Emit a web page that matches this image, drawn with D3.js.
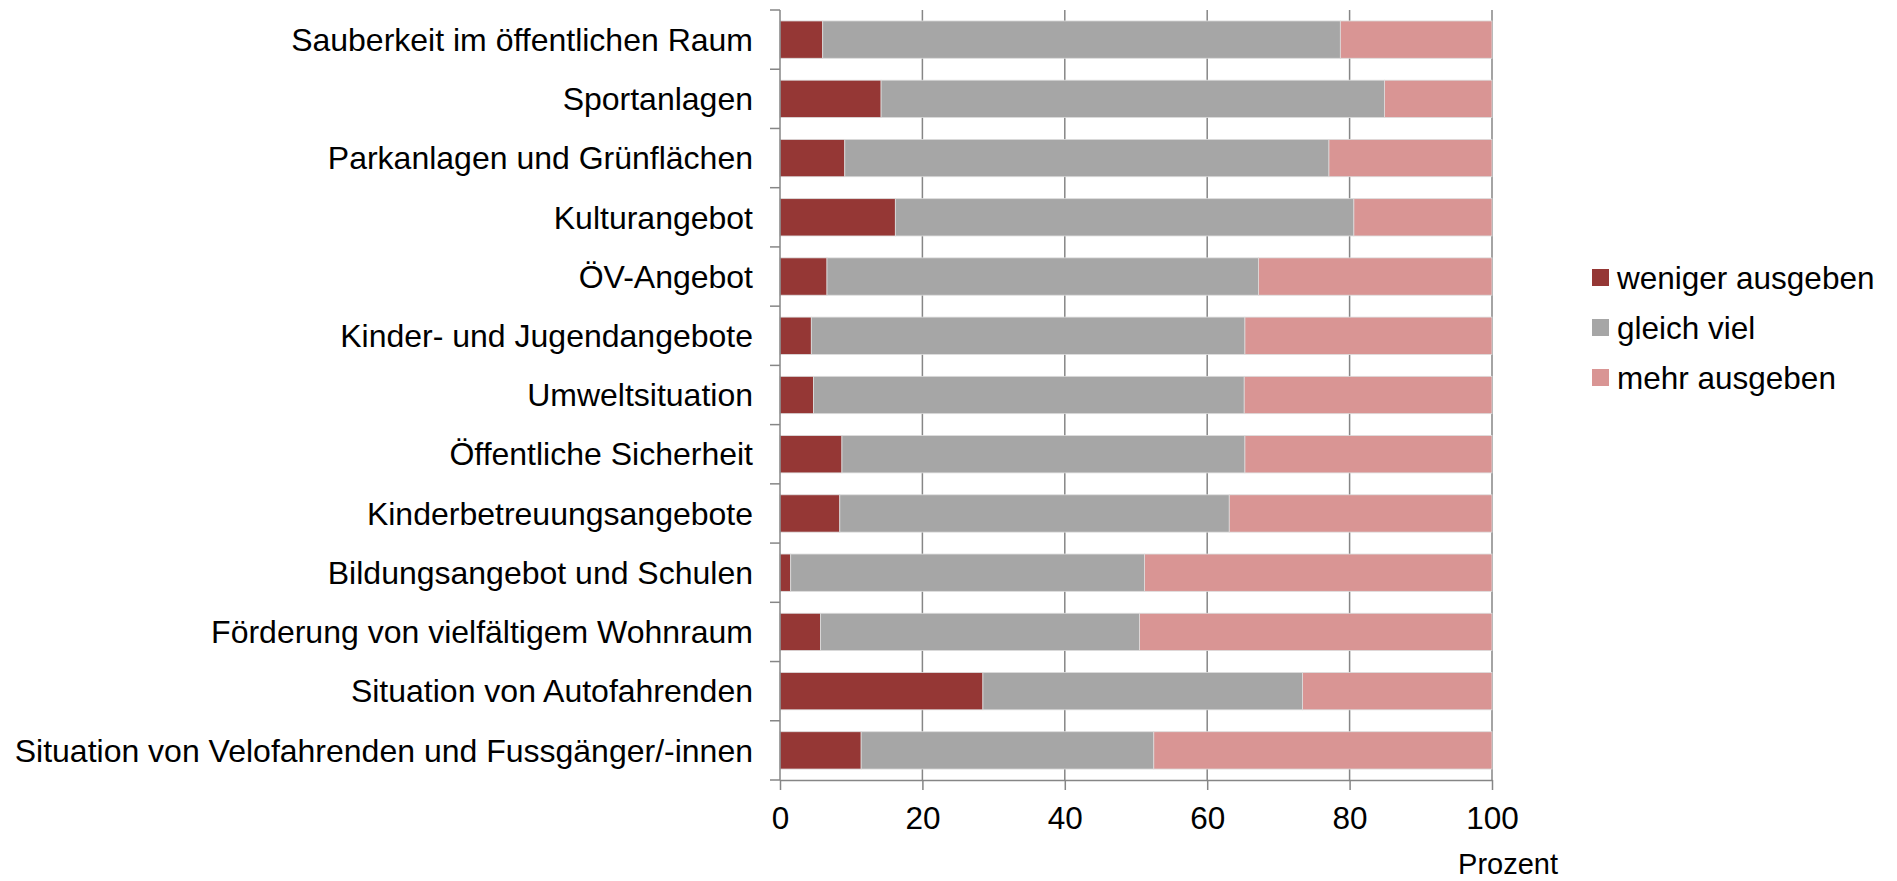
<!DOCTYPE html>
<html>
<head>
<meta charset="utf-8">
<script src="https://cdn.jsdelivr.net/npm/d3@7"></script>
<style>
    body { margin: 0; background: #fff; }
    text { font-family: "Liberation Sans", Arial, sans-serif; fill: #000; }
</style>
</head>
<body>
<div id="chart"></div>
<script>
// categories, top to bottom
const categories = [
    "Sauberkeit im öffentlichen Raum",
    "Sportanlagen",
    "Parkanlagen und Grünflächen",
    "Kulturangebot",
    "ÖV-Angebot",
    "Kinder- und Jugendangebote",
    "Umweltsituation",
    "Öffentliche Sicherheit",
    "Kinderbetreuungsangebote",
    "Bildungsangebot und Schulen",
    "Förderung von vielfältigem Wohnraum",
    "Situation von Autofahrenden",
    "Situation von Velofahrenden und Fussgänger/-innen"
];

const seriesNames = ["weniger ausgeben", "gleich viel", "mehr ausgeben"];

// percentages per category
const weniger = [6.0, 14.2, 9.1, 16.2, 6.6, 4.4, 4.7, 8.7, 8.4, 1.5, 5.7, 28.5, 11.4];
const gleich  = [72.7, 70.7, 68.0, 64.4, 60.6, 60.9, 60.5, 56.6, 54.7, 49.7, 44.8, 44.9, 41.1];
const mehr    = [21.3, 15.1, 22.9, 19.4, 32.8, 34.7, 34.8, 34.7, 36.9, 48.8, 49.5, 26.6, 47.5];

const xTicks = [0, 20, 40, 60, 80, 100];
const xTitle = "Prozent";

const colors = ["#953735", "#a6a6a6", "#d99594"];

let margin = {top: 10, right: 405, bottom: 101, left: 780};
let width = 1897 - margin.left - margin.right;
let height = 881 - margin.top - margin.bottom;

let svg = d3.select("#chart").append("svg")
    .attr("width", 1897)
    .attr("height", 881)
    .append("g")
    .attr("transform", `translate(${margin.left}, ${margin.top})`);

let rows = categories.map((c, i) => ({
    category: c,
    "weniger ausgeben": weniger[i],
    "gleich viel": gleich[i],
    "mehr ausgeben": mehr[i]
}));

let stacked = d3.stack().keys(seriesNames)(rows);

let x = d3.scaleLinear()
    .domain([0, 100])
    .range([0, width]);

let y = d3.scaleBand()
    .domain(categories)
    .range([0, height])
    .paddingInner(0.37)
    .paddingOuter(0.185);

// vertical gridlines
svg.append("g")
    .selectAll("line")
    .data(xTicks.slice(1))
    .enter()
    .append("line")
    .attr("x1", d => x(d))
    .attr("x2", d => x(d))
    .attr("y1", 0)
    .attr("y2", height)
    .attr("stroke", "#868686")
    .attr("stroke-width", 1.5);

// bars
svg.selectAll(".series")
    .data(stacked)
    .enter()
    .append("g")
    .attr("class", "series")
    .attr("fill", (d, i) => colors[i])
    .selectAll("rect")
    .data(d => d)
    .enter()
    .append("rect")
    .attr("x", d => x(d[0]))
    .attr("width", d => x(d[1]) - x(d[0]))
    .attr("y", d => y(d.data.category))
    .attr("height", y.bandwidth())
    .attr("stroke", "#dcdcdc")
    .attr("stroke-width", 0.8);

// y axis: line, ticks between categories
let yAxis = svg.append("g");
yAxis.append("line")
    .attr("x1", 0).attr("x2", 0)
    .attr("y1", 0).attr("y2", height)
    .attr("stroke", "#868686")
    .attr("stroke-width", 1.5);
yAxis.selectAll(".ytick")
    .data(d3.range(categories.length + 1))
    .enter()
    .append("line")
    .attr("class", "ytick")
    .attr("x1", -10).attr("x2", 0)
    .attr("y1", i => i * y.step())
    .attr("y2", i => i * y.step())
    .attr("stroke", "#868686")
    .attr("stroke-width", 1.5);
yAxis.selectAll(".ylabel")
    .data(categories)
    .enter()
    .append("text")
    .attr("class", "ylabel")
    .attr("x", -27)
    .attr("y", d => y(d) + y.bandwidth() / 2)
    .attr("dy", "0.35em")
    .attr("text-anchor", "end")
    .style("font-size", "32px")
    .text(d => d);

// x axis
let xAxis = d3.axisBottom(x)
    .tickValues(xTicks)
    .tickSize(10)
    .tickSizeOuter(0);
let xg = svg.append("g")
    .attr("transform", `translate(0, ${height})`)
    .call(xAxis);
xg.select(".domain").attr("stroke", "#868686").attr("stroke-width", 1.5);
xg.selectAll(".tick line").attr("stroke", "#868686").attr("stroke-width", 1.5);
xg.selectAll(".tick text")
    .attr("y", 27)
    .attr("dy", "0.71em")
    .style("font-size", "31.5px")
    .style("font-family", "'Liberation Sans', Arial, sans-serif")
    .attr("fill", "#000");

svg.append("text")
    .attr("x", x(100) + 66)
    .attr("y", height + 94)
    .attr("text-anchor", "end")
    .style("font-size", "29px")
    .text(xTitle);

// legend
let legend = svg.append("g")
    .attr("transform", `translate(${1592 - margin.left}, ${269 - margin.top})`);
legend.selectAll("rect")
    .data(seriesNames)
    .enter()
    .append("rect")
    .attr("x", 0)
    .attr("y", (d, i) => i * 50)
    .attr("width", 17)
    .attr("height", 17)
    .attr("fill", (d, i) => colors[i]);
legend.selectAll("text")
    .data(seriesNames)
    .enter()
    .append("text")
    .attr("x", 25)
    .attr("y", (d, i) => i * 50 + 8.5)
    .attr("dy", "0.35em")
    .style("font-size", "31.5px")
    .text(d => d);
</script>
</body>
</html>
